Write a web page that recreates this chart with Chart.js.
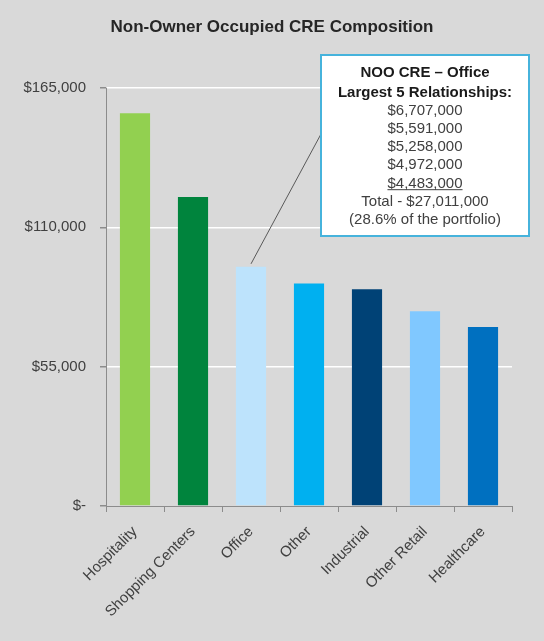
<!DOCTYPE html>
<html>
<head>
<meta charset="utf-8">
<script src="https://cdn.jsdelivr.net/npm/chart.js@4/dist/chart.umd.min.js"></script>
<style>
  html, body { margin: 0; padding: 0; background: #d9d9d9; }
  canvas { display: block; }
</style>
</head>
<body>
<canvas id="chart" width="544" height="641"></canvas>
<script>
// Non-owner occupied CRE balances by property type (in $ thousands)
const categories = ['Hospitality', 'Shopping Centers', 'Office', 'Other', 'Industrial', 'Other Retail', 'Healthcare'];
const balances = [155000, 122000, 94400, 87800, 85600, 76900, 70700];
const barColors = ['#92D050', '#00843D', '#BDE3FC', '#00B0F0', '#004276', '#80C8FF', '#0070C0'];
const yTicks = [0, 55000, 110000, 165000];

// Callout: largest office relationships
const calloutTitle = ['NOO CRE \u2013 Office', 'Largest 5 Relationships:'];
const officeRelationships = ['$6,707,000', '$5,591,000', '$5,258,000', '$4,972,000', '$4,483,000'];
const calloutFooter = ['Total - $27,011,000', '(28.6% of the portfolio)'];
const calloutCategory = 'Office';

const FONT = "'Liberation Sans', Arial, sans-serif";

function fmtDollar(v) {
  return v === 0 ? '$-' : '$' + v.toLocaleString('en-US');
}

const decorations = {
  id: 'decorations',
  afterDraw(chart) {
    const ctx = chart.ctx;
    ctx.save();
    // Title
    ctx.fillStyle = '#262626';
    ctx.font = 'bold 17px ' + FONT;
    ctx.textAlign = 'center';
    ctx.textBaseline = 'alphabetic';
    ctx.fillText('Non-Owner Occupied CRE Composition', chart.width / 2, 32);

    // Callout box with leader line to the office bar
    const bx = 321, by = 55, bw = 208, bh = 181;
    const idx = categories.indexOf(calloutCategory);
    const bar = chart.getDatasetMeta(0).data[idx];
    ctx.strokeStyle = '#595959';
    ctx.lineWidth = 1;
    ctx.beginPath();
    ctx.moveTo(bar.x, bar.y - 3);
    ctx.lineTo(bx, 134);
    ctx.stroke();

    ctx.fillStyle = '#ffffff';
    ctx.fillRect(bx, by, bw, bh);
    ctx.strokeStyle = '#46B3DC';
    ctx.lineWidth = 2;
    ctx.strokeRect(bx, by, bw, bh);

    const cx = bx + bw / 2;
    ctx.textAlign = 'center';
    ctx.fillStyle = '#1a1a1a';
    ctx.font = 'bold 15px ' + FONT;
    ctx.fillText(calloutTitle[0], cx, 77);
    ctx.fillText(calloutTitle[1], cx, 96.5);

    ctx.fillStyle = '#404040';
    ctx.font = '15px ' + FONT;
    const lines = officeRelationships.concat(calloutFooter);
    lines.forEach((t, i) => {
      const y = 114.5 + i * 18.3;
      ctx.fillText(t, cx, y);
      if (i === officeRelationships.length - 1) {
        const w = ctx.measureText(t).width;
        ctx.strokeStyle = '#404040';
        ctx.lineWidth = 1;
        ctx.beginPath();
        ctx.moveTo(cx - w / 2, y + 2);
        ctx.lineTo(cx + w / 2, y + 2);
        ctx.stroke();
      }
    });
    ctx.restore();
  }
};

new Chart(document.getElementById('chart'), {
  type: 'bar',
  data: {
    labels: categories,
    datasets: [{
      data: balances,
      backgroundColor: barColors,
      borderWidth: 0,
      barPercentage: 0.52,
      categoryPercentage: 1
    }]
  },
  options: {
    responsive: false,
    animation: false,
    devicePixelRatio: 1,
    layout: { padding: { top: 88, right: 32, bottom: 0, left: 0 } },
    plugins: {
      legend: { display: false },
      title: { display: false },
      tooltip: { enabled: false }
    },
    scales: {
      x: {
        grid: {
          display: true,
          drawOnChartArea: false,
          drawTicks: true,
          tickLength: 6,
          tickColor: '#8c8c8c',
          offset: true
        },
        border: { display: true, color: '#8c8c8c', width: 1 },
        ticks: {
          minRotation: 45,
          maxRotation: 45,
          autoSkip: false,
          padding: 11,
          color: '#404040',
          font: { family: FONT, size: 15 }
        },
        afterFit(scale) { scale.height = 135; }
      },
      y: {
        min: 0,
        max: 165000,
        afterBuildTicks(scale) { scale.ticks = yTicks.map(v => ({ value: v })); },
        grid: {
          color: ctx => (ctx.tick && ctx.tick.value === 0) ? 'rgba(0,0,0,0)' : '#ffffff',
          lineWidth: 1.5,
          drawTicks: true,
          tickLength: 6,
          tickColor: '#8c8c8c'
        },
        border: { display: true, color: '#8c8c8c', width: 1 },
        ticks: {
          padding: 14,
          color: '#404040',
          font: { family: FONT, size: 15 },
          callback: v => fmtDollar(v)
        },
        afterFit(scale) { scale.width = 106; }
      }
    }
  },
  plugins: [decorations]
});
</script>
</body>
</html>
